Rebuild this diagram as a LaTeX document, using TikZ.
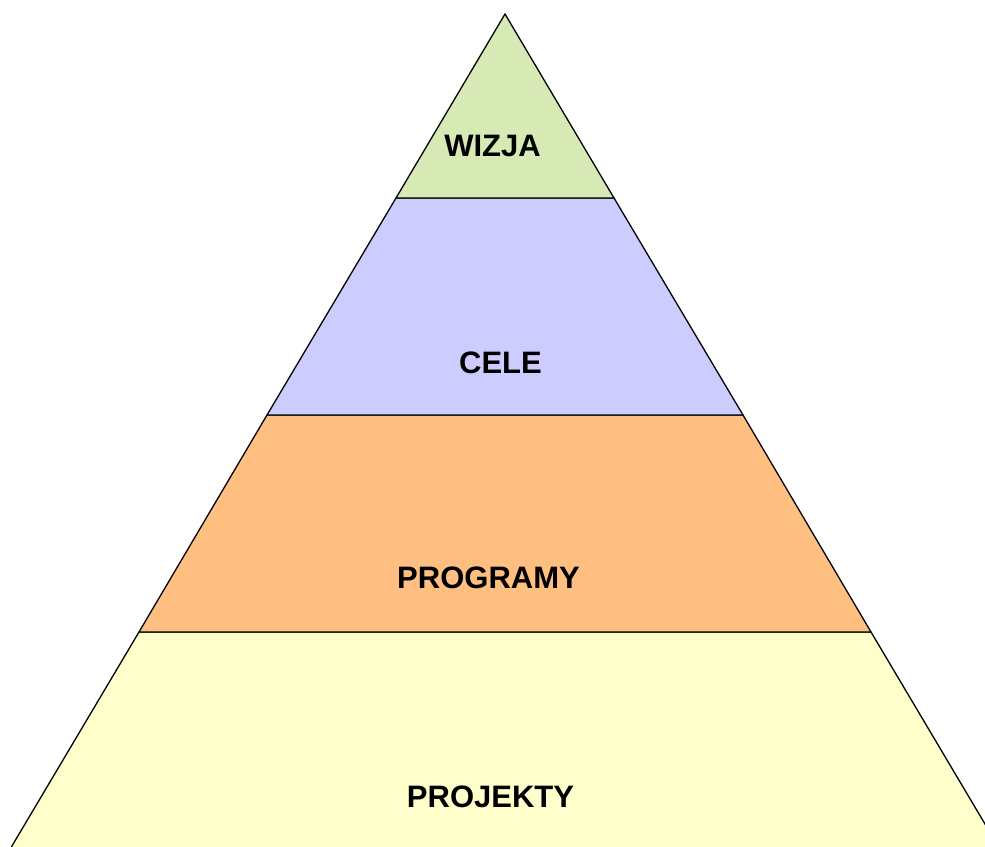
\documentclass[tikz,border=0pt]{standalone}
\usepackage{fontspec}
\setmainfont{Liberation Sans}
\definecolor{cgreen}{RGB}{215,233,180}
\definecolor{cpurple}{RGB}{204,204,255}
\definecolor{corange}{RGB}{255,191,128}
\definecolor{cyellow}{RGB}{255,255,204}
\begin{document}
\begin{tikzpicture}[x=1pt,y=-1pt,
  layer/.style={draw=black,line width=1.3pt,line join=miter},
  lab/.style={anchor=base,font=\fontsize{31}{31}\selectfont\bfseries,inner sep=0pt}]
\useasboundingbox (0,0) rectangle (985,846);
\clip (0,0) rectangle (985,846);
\coordinate (A) at (505,14);
\coordinate (L1) at (396,198);  \coordinate (R1) at (614,198);
\coordinate (L2) at (267,415);  \coordinate (R2) at (743,415);
\coordinate (L3) at (139,632);  \coordinate (R3) at (871,632);
\coordinate (L4) at (-13,888);  \coordinate (R4) at (1023,888);
\draw[layer,fill=cyellow] (L3) -- (R3) -- (R4) -- (L4) -- cycle;
\draw[layer,fill=corange] (L2) -- (R2) -- (R3) -- (L3) -- cycle;
\draw[layer,fill=cpurple] (L1) -- (R1) -- (R2) -- (L2) -- cycle;
\draw[layer,fill=cgreen] (A) -- (R1) -- (L1) -- cycle;
\node[lab] (wizja) at (492.5,156) {WIZJA};
\node[lab] (cele) at (500.5,373) {CELE};
\node[lab] (programy) at (488.5,588) {PROGRAMY};
\node[lab] (projekty) at (490.5,807) {PROJEKTY};
\end{tikzpicture}
\end{document}
